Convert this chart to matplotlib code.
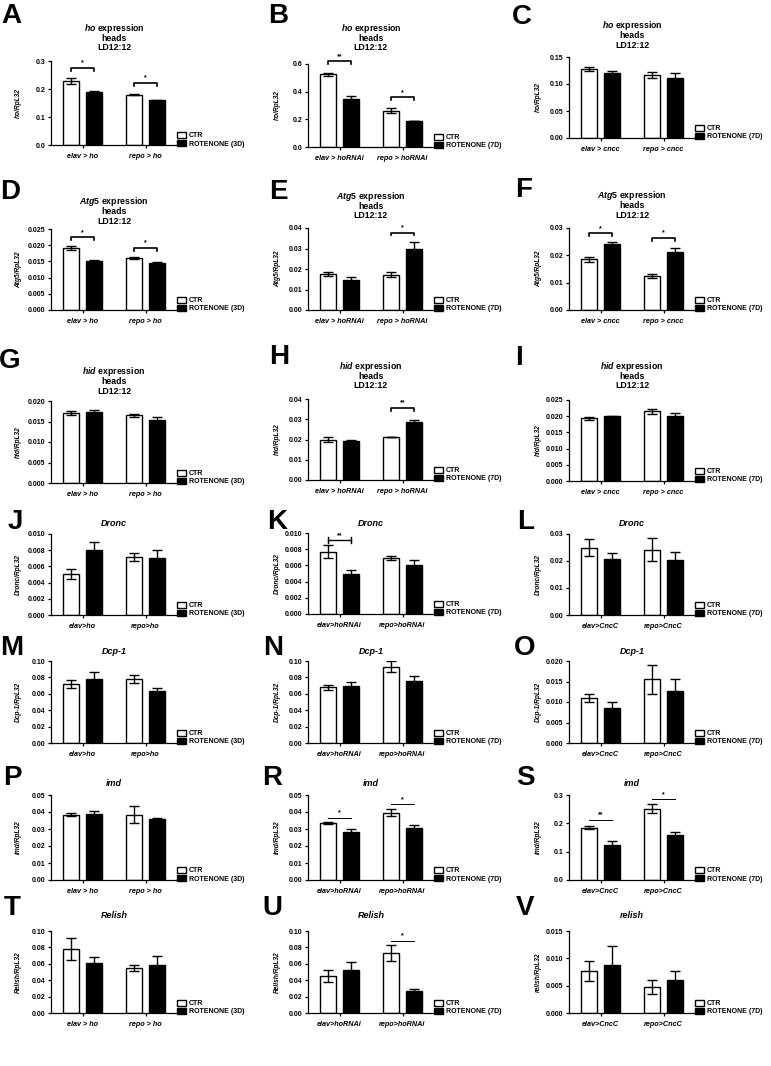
import matplotlib
matplotlib.use("Agg")
import matplotlib.pyplot as plt

plt.rcParams['font.family'] = ['Liberation Sans', 'DejaVu Sans']
plt.rcParams['font.weight'] = 'bold'
plt.rcParams['mathtext.fontset'] = 'custom'
plt.rcParams['mathtext.it'] = 'Liberation Sans:italic:bold'
plt.rcParams['mathtext.rm'] = 'Liberation Sans:bold'
plt.rcParams['mathtext.bf'] = 'Liberation Sans:bold'
plt.rcParams['axes.linewidth'] = 0.9

# ---------------- data ----------------
groups_ho = ["elav > ho", "repo > ho"]
groups_horna = ["elav > hoRNAi", "repo > hoRNAi"]
groups_cncc = ["elav > cncc", "repo > cncc"]
groups_ho2 = ["elav>ho", "repo>ho"]
groups_horna2 = ["elav>hoRNAi", "repo>hoRNAi"]
groups_cncc2 = ["elav>CncC", "repo>CncC"]

A_ctr = [0.228, 0.180]; A_ctr_sem = [0.010, 0.003]
A_rot = [0.190, 0.160]; A_rot_sem = [0.003, 0.002]
A_ticks = [0.0, 0.1, 0.2, 0.3]; A_labels = ["0.0", "0.1", "0.2", "0.3"]
A_sig = [(0, 0.276, "*"), (1, 0.222, "*")]

B_ctr = [0.525, 0.262]; B_ctr_sem = [0.010, 0.018]
B_rot = [0.350, 0.188]; B_rot_sem = [0.018, 0.003]
B_ticks = [0.0, 0.2, 0.4, 0.6]; B_labels = ["0.0", "0.2", "0.4", "0.6"]
B_sig = [(0, 0.620, "**"), (1, 0.359, "*")]

C_ctr = [0.128, 0.117]; C_ctr_sem = [0.004, 0.005]
C_rot = [0.121, 0.112]; C_rot_sem = [0.003, 0.008]
C_ticks = [0.0, 0.05, 0.10, 0.15]; C_labels = ["0.00", "0.05", "0.10", "0.15"]
C_sig = []

D_ctr = [0.0192, 0.0161]; D_ctr_sem = [0.0007, 0.0003]
D_rot = [0.0152, 0.0146]; D_rot_sem = [0.0003, 0.0003]
D_ticks = [0.0, 0.005, 0.010, 0.015, 0.020, 0.025]
D_labels = ["0.000", "0.005", "0.010", "0.015", "0.020", "0.025"]
D_sig = [(0, 0.0224, "*"), (1, 0.0192, "*")]

E_ctr = [0.0175, 0.0172]; E_ctr_sem = [0.0010, 0.0013]
E_rot = [0.0145, 0.0300]; E_rot_sem = [0.0015, 0.0030]
E_ticks = [0.0, 0.01, 0.02, 0.03, 0.04]; E_labels = ["0.00", "0.01", "0.02", "0.03", "0.04"]
E_sig = [(1, 0.0378, "*")]

F_ctr = [0.0185, 0.0123]; F_ctr_sem = [0.0008, 0.0007]
F_rot = [0.0240, 0.0213]; F_rot_sem = [0.0008, 0.0013]
F_ticks = [0.0, 0.01, 0.02, 0.03]; F_labels = ["0.00", "0.01", "0.02", "0.03"]
F_sig = [(0, 0.0280, "*"), (1, 0.0264, "*")]

G_ctr = [0.0170, 0.0165]; G_ctr_sem = [0.0005, 0.0004]
G_rot = [0.0173, 0.0153]; G_rot_sem = [0.0004, 0.0008]
G_ticks = [0.0, 0.005, 0.010, 0.015, 0.020]
G_labels = ["0.000", "0.005", "0.010", "0.015", "0.020"]
G_sig = []

H_ctr = [0.0200, 0.0212]; H_ctr_sem = [0.0010, 0.0002]
H_rot = [0.0193, 0.0288]; H_rot_sem = [0.0007, 0.0010]
H_ticks = [0.0, 0.01, 0.02, 0.03, 0.04]; H_labels = ["0.00", "0.01", "0.02", "0.03", "0.04"]
H_sig = [(1, 0.0356, "**")]

I_ctr = [0.0193, 0.0215]; I_ctr_sem = [0.0004, 0.0008]
I_rot = [0.0200, 0.0200]; I_rot_sem = [0.0002, 0.0010]
I_ticks = [0.0, 0.005, 0.010, 0.015, 0.020, 0.025]
I_labels = ["0.000", "0.005", "0.010", "0.015", "0.020", "0.025"]
I_sig = []

J_ctr = [0.0051, 0.0072]; J_ctr_sem = [0.0006, 0.0005]
J_rot = [0.0080, 0.0070]; J_rot_sem = [0.0010, 0.0010]
J_ticks = [0.0, 0.002, 0.004, 0.006, 0.008, 0.010]
J_labels = ["0.000", "0.002", "0.004", "0.006", "0.008", "0.010"]
J_sig = []

K_ctr = [0.0077, 0.0069]; K_ctr_sem = [0.0008, 0.0002]
K_rot = [0.0049, 0.0061]; K_rot_sem = [0.0005, 0.0006]
K_ticks = J_ticks; K_labels = J_labels
K_sig = [(0, 0.0091, "**")]

L_ctr = [0.0250, 0.0242]; L_ctr_sem = [0.0030, 0.0042]
L_rot = [0.0207, 0.0202]; L_rot_sem = [0.0024, 0.0033]
L_ticks = [0.0, 0.01, 0.02, 0.03]; L_labels = ["0.00", "0.01", "0.02", "0.03"]
L_sig = []

M_ctr = [0.072, 0.078]; M_ctr_sem = [0.005, 0.005]
M_rot = [0.078, 0.063]; M_rot_sem = [0.008, 0.004]
M_ticks = [0.0, 0.02, 0.04, 0.06, 0.08, 0.10]
M_labels = ["0.00", "0.02", "0.04", "0.06", "0.08", "0.10"]
M_sig = []

N_ctr = [0.068, 0.093]; N_ctr_sem = [0.003, 0.007]
N_rot = [0.070, 0.076]; N_rot_sem = [0.004, 0.006]
N_ticks = M_ticks; N_labels = M_labels
N_sig = []

O_ctr = [0.0110, 0.0155]; O_ctr_sem = [0.0010, 0.0035]
O_rot = [0.0085, 0.0128]; O_rot_sem = [0.0015, 0.0028]
O_ticks = [0.0, 0.005, 0.010, 0.015, 0.020]
O_labels = ["0.000", "0.005", "0.010", "0.015", "0.020"]
O_sig = []

P_ctr = [0.0385, 0.0383]; P_ctr_sem = [0.0008, 0.0050]
P_rot = [0.0390, 0.0357]; P_rot_sem = [0.0015, 0.0008]
P_ticks = [0.0, 0.01, 0.02, 0.03, 0.04, 0.05]
P_labels = ["0.00", "0.01", "0.02", "0.03", "0.04", "0.05"]
P_sig = []

R_ctr = [0.0337, 0.0395]; R_ctr_sem = [0.0006, 0.0020]
R_rot = [0.0283, 0.0303]; R_rot_sem = [0.0015, 0.0018]
R_ticks = P_ticks; R_labels = P_labels
R_sig = [(0, 0.0365, "*"), (1, 0.0445, "*")]

S_ctr = [0.185, 0.252]; S_ctr_sem = [0.004, 0.017]
S_rot = [0.125, 0.158]; S_rot_sem = [0.012, 0.012]
S_ticks = [0.0, 0.1, 0.2, 0.3]; S_labels = ["0.0", "0.1", "0.2", "0.3"]
S_sig = [(0, 0.212, "**"), (1, 0.285, "*")]

T_ctr = [0.078, 0.055]; T_ctr_sem = [0.013, 0.004]
T_rot = [0.061, 0.059]; T_rot_sem = [0.007, 0.010]
T_ticks = M_ticks; T_labels = M_labels
T_sig = []

U_ctr = [0.045, 0.073]; U_ctr_sem = [0.007, 0.010]
U_rot = [0.053, 0.027]; U_rot_sem = [0.009, 0.002]
U_ticks = M_ticks; U_labels = M_labels
U_sig = [(1, 0.088, "*")]

V_ctr = [0.0077, 0.0048]; V_ctr_sem = [0.0019, 0.0013]
V_rot = [0.0088, 0.0061]; V_rot_sem = [0.0034, 0.0015]
V_ticks = [0.0, 0.005, 0.010, 0.015]; V_labels = ["0.000", "0.005", "0.010", "0.015"]
V_sig = []

# ---------------- layout (pixels) ----------------
W, H = 771, 1066
fig = plt.figure(figsize=(W / 100, H / 100), dpi=100)

col_left = [51, 308, 569]
ax_w = 126
ylab_x = [22, 281, 542]

panels = [
    ("A", "ho", 3, groups_ho, "3D", A_ctr, A_ctr_sem, A_rot, A_rot_sem, A_ticks, A_labels, A_sig, (61, 145), 0, (11, 16), 48, "bracket"),
    ("B", "ho", 3, groups_horna, "7D", B_ctr, B_ctr_sem, B_rot, B_rot_sem, B_ticks, B_labels, B_sig, (64, 147), 1, (278, 16), 48, "bracket"),
    ("C", "ho", 3, groups_cncc, "7D", C_ctr, C_ctr_sem, C_rot, C_rot_sem, C_ticks, C_labels, C_sig, (57, 138), 2, (522, 17), 45, "bracket"),
    ("D", "Atg5", 3, groups_ho, "3D", D_ctr, D_ctr_sem, D_rot, D_rot_sem, D_ticks, D_labels, D_sig, (229, 310), 0, (10, 192), 221, "bracket"),
    ("E", "Atg5", 3, groups_horna, "7D", E_ctr, E_ctr_sem, E_rot, E_rot_sem, E_ticks, E_labels, E_sig, (228, 310), 1, (278, 192), 216, "bracket"),
    ("F", "Atg5", 3, groups_cncc, "7D", F_ctr, F_ctr_sem, F_rot, F_rot_sem, F_ticks, F_labels, F_sig, (228, 310), 2, (524, 190), 215, "bracket"),
    ("G", "hid", 3, groups_ho, "3D", G_ctr, G_ctr_sem, G_rot, G_rot_sem, G_ticks, G_labels, G_sig, (401, 483), 0, (10, 361), 391, "bracket"),
    ("H", "hid", 3, groups_horna, "7D", H_ctr, H_ctr_sem, H_rot, H_rot_sem, H_ticks, H_labels, H_sig, (399, 480), 1, (279, 357), 386, "bracket"),
    ("I", "hid", 3, groups_cncc, "7D", I_ctr, I_ctr_sem, I_rot, I_rot_sem, I_ticks, I_labels, I_sig, (400, 481), 2, (519, 358), 386, "bracket"),
    ("J", "Dronc", 1, groups_ho2, "3D", J_ctr, J_ctr_sem, J_rot, J_rot_sem, J_ticks, J_labels, J_sig, (534, 615), 0, (15, 522), 524, "bracket"),
    ("K", "Dronc", 1, groups_horna2, "7D", K_ctr, K_ctr_sem, K_rot, K_rot_sem, K_ticks, K_labels, K_sig, (533, 614), 1, (277, 522), 523, "ibar"),
    ("L", "Dronc", 1, groups_cncc2, "7D", L_ctr, L_ctr_sem, L_rot, L_rot_sem, L_ticks, L_labels, L_sig, (534, 615), 2, (526, 522), 524, "bracket"),
    ("M", "Dcp-1", 1, groups_ho2, "3D", M_ctr, M_ctr_sem, M_rot, M_rot_sem, M_ticks, M_labels, M_sig, (661, 743), 0, (12, 648), 651, "bracket"),
    ("N", "Dcp-1", 1, groups_horna2, "7D", N_ctr, N_ctr_sem, N_rot, N_rot_sem, N_ticks, N_labels, N_sig, (661, 743), 1, (273, 648), 651, "bracket"),
    ("O", "Dcp-1", 1, groups_cncc2, "7D", O_ctr, O_ctr_sem, O_rot, O_rot_sem, O_ticks, O_labels, O_sig, (661, 743), 2, (525, 648), 651, "bracket"),
    ("P", "imd", 1, groups_ho, "3D", P_ctr, P_ctr_sem, P_rot, P_rot_sem, P_ticks, P_labels, P_sig, (795, 880), 0, (12, 778), 783, "line"),
    ("R", "imd", 1, groups_horna2, "7D", R_ctr, R_ctr_sem, R_rot, R_rot_sem, R_ticks, R_labels, R_sig, (795, 880), 1, (272, 778), 783, "line"),
    ("S", "imd", 1, groups_cncc2, "7D", S_ctr, S_ctr_sem, S_rot, S_rot_sem, S_ticks, S_labels, S_sig, (795, 880), 2, (525, 778), 783, "line"),
    ("T", "Relish", 1, groups_ho, "3D", T_ctr, T_ctr_sem, T_rot, T_rot_sem, T_ticks, T_labels, T_sig, (931, 1013), 0, (12, 908), 915, "line"),
    ("U", "Relish", 1, groups_horna2, "7D", U_ctr, U_ctr_sem, U_rot, U_rot_sem, U_ticks, U_labels, U_sig, (931, 1013), 1, (272, 908), 915, "line"),
    ("V", "relish", 1, groups_cncc2, "7D", V_ctr, V_ctr_sem, V_rot, V_rot_sem, V_ticks, V_labels, V_sig, (931, 1013), 2, (525, 908), 915, "line"),
]

bar_w = 0.254
off = 0.186

for (letter, gene, ttype, groups, days, ctr, ctr_sem, rot, rot_sem, ticks, labels, sig,
     (top, bot), col, (lx, ly), ty, sstyle) in panels:
    left = col_left[col]
    ax = fig.add_axes([left / W, 1 - bot / H, ax_w / W, (bot - top) / H])
    x = list(range(len(groups)))
    xc = [v - off for v in x]
    xr = [v + off for v in x]
    b1 = ax.bar(xc, ctr, width=bar_w, color="white", edgecolor="black", linewidth=1.0,
                yerr=ctr_sem, capsize=3.3, error_kw=dict(elinewidth=1.0, capthick=1.0, ecolor="black"))
    b2 = ax.bar(xr, rot, width=bar_w, color="black", edgecolor="black", linewidth=1.0,
                yerr=rot_sem, capsize=3.3, error_kw=dict(elinewidth=1.0, capthick=1.0, ecolor="black"))
    ymax = ticks[-1]
    ax.set_xlim(-0.5, 1.5)
    ax.set_ylim(0, ymax)
    ax.set_yticks(ticks)
    ax.set_yticklabels(labels, fontsize=5, fontweight="bold")
    ax.set_xticks(x)
    ax.set_xticklabels(groups, fontsize=5.2, fontweight="bold", fontstyle="italic")
    ax.tick_params(axis="both", direction="out", length=2.5, width=0.9, pad=1.5)
    ax.tick_params(axis="x", pad=3)
    for s in ("top", "right"):
        ax.spines[s].set_visible(False)
    ax.set_ylabel(f"{gene}/RpL32", fontsize=4.8, fontweight="bold", fontstyle="italic")
    ax.yaxis.set_label_coords(-(left - ylab_x[col]) / ax_w, 0.5)

    # significance marks
    t = 0.035 * ymax
    for g, yv, txt in sig:
        x0, x1 = g - off, g + off
        if sstyle == "bracket":
            ax.plot([x0, x0, x1, x1], [yv - t, yv, yv, yv - t], color="black", lw=1.2, clip_on=False)
        elif sstyle == "ibar":
            ax.plot([x0, x1], [yv, yv], color="black", lw=1.0, clip_on=False)
            ax.plot([x0, x0], [yv - t, yv + t], color="black", lw=1.0, clip_on=False)
            ax.plot([x1, x1], [yv - t, yv + t], color="black", lw=1.0, clip_on=False)
        else:
            ax.plot([x0, x1], [yv, yv], color="black", lw=0.7, clip_on=False)
        ax.annotate(txt, xy=(g, yv), xytext=(0, 1), textcoords="offset points",
                    ha="center", va="bottom", fontsize=5, fontweight="bold", annotation_clip=False)

    ax.legend([b1, b2], ["CTR", f"ROTENONE ({days})"], loc="lower left",
              bbox_to_anchor=(1.0, -0.03), frameon=False, fontsize=5,
              handlelength=1.35, handleheight=0.8, handletextpad=0.4,
              labelspacing=0.15, borderaxespad=0, borderpad=0)

    cx = (left + ax_w / 2) / W
    if ttype == 3:
        lines = [rf"$\mathit{{{gene}}}$ expression", "heads", "LD12:12"]
        for i, ln in enumerate(lines):
            fig.text(cx, 1 - (ty - (2 - i) * 9.8) / H, ln, ha="center", va="center",
                     fontsize=6.3, fontweight="bold")
    else:
        fig.text(cx, 1 - ty / H, gene, ha="center", va="center", fontsize=6.5,
                 fontweight="bold", fontstyle="italic")

    fig.text(lx / W, 1 - ly / H, letter, ha="center", va="center", fontsize=20, fontweight="bold")

fig.savefig("out.png", dpi=100, facecolor="white")
